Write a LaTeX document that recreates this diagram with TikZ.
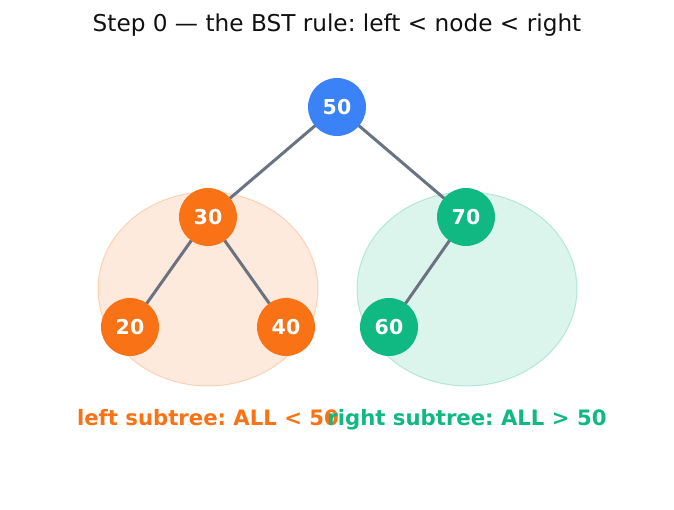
\documentclass[tikz,border=0pt]{standalone}
\usepackage{fontspec}
\setmainfont{DejaVu Sans}
\frenchspacing
\definecolor{cblue}{HTML}{3B82F6}
\definecolor{corange}{HTML}{F97316}
\definecolor{cgreen}{HTML}{10B981}
\definecolor{cedge}{HTML}{6B7280}
\definecolor{ctitle}{HTML}{111111}
\begin{document}
\begin{tikzpicture}[x=1pt,y=-1pt,
  tnode/.style={circle,minimum size=58pt,inner sep=0pt,text=white,font=\fontsize{20.5}{22}\selectfont\bfseries},
  edge/.style={draw=cedge,line width=3pt},
  region/.style={line width=1pt},
  sublabel/.style={anchor=base,font=\fontsize{21.2}{23}\selectfont\bfseries}]
\useasboundingbox (0,0) rectangle (674,510);
\fill[white] (0,0) rectangle (674,510);
\fill[corange,fill opacity=0.15,draw=corange,draw opacity=0.25,region] (208,289) ellipse [x radius=110, y radius=97];
\fill[cgreen,fill opacity=0.15,draw=cgreen,draw opacity=0.25,region] (467,289) ellipse [x radius=110, y radius=97];
\node[anchor=base] (title) at (337,32) {\fontsize{23.2}{26}\selectfont\color{ctitle}Step 0 — the BST rule: left < node < right};
\coordinate (c50) at (337,107);
\coordinate (c30) at (208,217);
\coordinate (c70) at (466,217);
\coordinate (c20) at (130,327);
\coordinate (c40) at (286,327);
\coordinate (c60) at (389,327);
\draw[edge] (c50) -- (c30);
\draw[edge] (c50) -- (c70);
\draw[edge] (c30) -- (c20);
\draw[edge] (c30) -- (c40);
\draw[edge] (c70) -- (c60);
\node[tnode,fill=cblue] (n50) at (c50) {50};
\node[tnode,fill=corange] (n30) at (c30) {30};
\node[tnode,fill=cgreen] (n70) at (c70) {70};
\node[tnode,fill=corange] (n20) at (c20) {20};
\node[tnode,fill=corange] (n40) at (c40) {40};
\node[tnode,fill=cgreen] (n60) at (c60) {60};
\node[sublabel,text=corange] (lleft) at (208,425) {left subtree: ALL < 50};
\node[sublabel,text=cgreen] (lright) at (467,425) {right subtree: ALL > 50};
\end{tikzpicture}
\end{document}
